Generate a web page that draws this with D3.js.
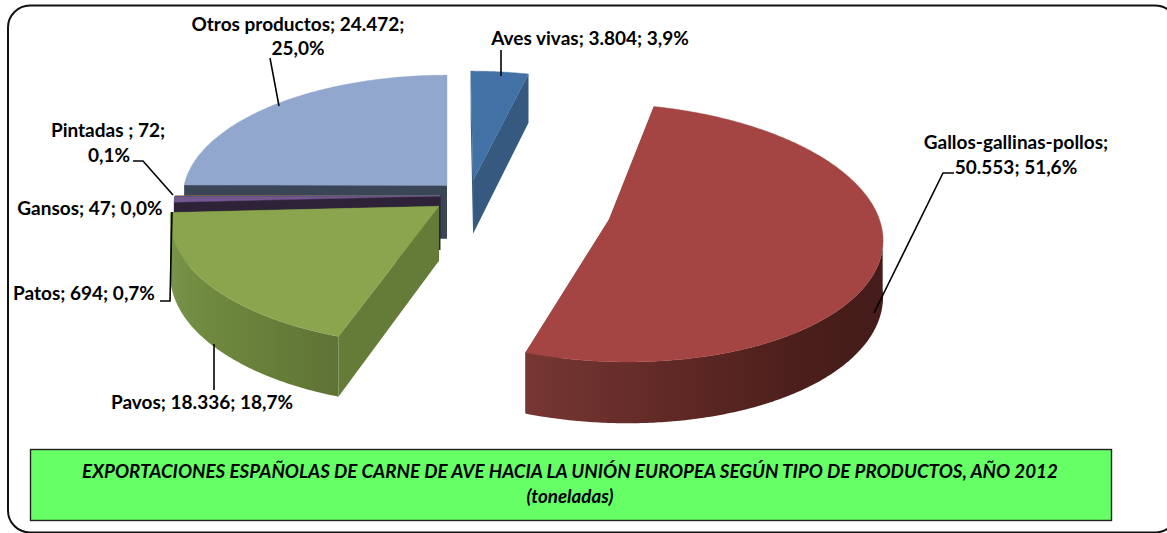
<!DOCTYPE html>
<html><head><meta charset="utf-8">
<script src="https://cdn.jsdelivr.net/npm/d3@7"></script>
<style>html,body{margin:0;padding:0;background:#fff;overflow:hidden}svg{display:block}
text{font-family:Lato,Carlito,sans-serif;font-weight:700;fill:#000}</style></head><body>
<script>
const categories = ["Aves vivas","Gallos-gallinas-pollos","Pavos","Patos","Gansos","Pintadas","Otros productos"];
const tonnes = [3804,50553,18336,694,47,72,24472];
const topColors = ["#4271a6","#a54543","#8aa54e","#72588f","#3f8fa5","#c07a3a","#92a7cd"];
const wallColors = ["#35597f","#451c19","#657b38","#2e2238","#2e2238","#2e2238","#3a4658"];
const rimShades = [null,[[200,"#773734"],[170,"#5f2825"],[140,"#4a1e1b"],[120,"#451c19"]],[[267,"#78944a"],[235,"#6f8a3f"],[200,"#5f7335"]],null,null,null,null];
const labelLines = [
  ["Aves vivas; 3.804; 3,9%"],
  ["Gallos-gallinas-pollos;","50.553; 51,6%"],
  ["Pavos; 18.336; 18,7%"],
  ["Patos; 694; 0,7%"],
  ["Gansos; 47; 0,0%"],
  ["Pintadas ; 72;","0,1%"],
  ["Otros productos; 24.472;","25,0%"]
];
const titleLines = ["EXPORTACIONES ESPAÑOLAS DE CARNE DE AVE HACIA LA UNIÓN EUROPEA SEGÚN TIPO DE PRODUCTOS, AÑO 2012","(toneladas)"];

// layout (separate from the data)
const W=1167,H=533;
const cam={cx:447,cy:195,A:123,B:265,k:0.1,D:54};
const sliceShift=[[0.0995,-0.12],[0.6,0.195],[-0.03,0.09],[-0.026,0.008],[-0.026,0.008],[-0.026,0.008],[0,-0.08]];
const drawOrder=[6,5,4,3,0,2,1];
const labelY=[45,149,409,300,215,137,31];
const lineGap=[0,25,0,0,0,25,24];
const labelLineX=[[590],[1016,1016],[202],[84],[90],[108,109],[298,298]];
const leaders=[
  [[501,50],[501,76]],
  [[954,173],[943,173],[874,313]],
  [[214,344],[214,390]],
  [[160,301],[170,301],[172,212]],
  [],
  [[133,161],[143,161],[173,195]],
  [[270,58],[279,106]]
];

const svg=d3.select("body").append("svg").attr("width",W).attr("height",H);
const defs=svg.append("defs");
const lineGen=d3.line();
const proj=(X,Z,y0=0)=>{const s=1/(1-cam.k*Z);return [cam.cx+cam.B*X*s, cam.cy+(cam.A*Z+y0)*s];};
const pie=d3.pie().sort(null).startAngle(0).endAngle(2*Math.PI)(tonnes);
const rad=d=>d*Math.PI/180;

svg.append("rect").attr("x",8).attr("y",5.5).attr("width",1169).attr("height",527).attr("rx",22).attr("ry",22)
  .attr("fill","#fff").attr("stroke","#111").attr("stroke-width",2);

function rimPoint(i,t,y0){const [ox,oz]=sliceShift[i];return proj(ox+Math.sin(t),oz-Math.cos(t),y0);}
function apex(i,y0){const [ox,oz]=sliceShift[i];return proj(ox,oz,y0);}

drawOrder.forEach(i=>{
  const a=pie[i],n=Math.max(2,Math.ceil((a.endAngle-a.startAngle)/0.01));
  const ts=d3.range(n+1).map(j=>a.startAngle+(a.endAngle-a.startAngle)*j/n);
  const g=svg.append("g").attr("class","slice");
  const wall=(t)=>lineGen([apex(i,0),rimPoint(i,t,0),rimPoint(i,t,cam.D),apex(i,cam.D)])+"Z";
  g.append("path").attr("d",wall(a.startAngle)).attr("fill",wallColors[i]);
  g.append("path").attr("d",wall(a.endAngle)).attr("fill",wallColors[i]);
  // outer rim: only the part that faces the viewer, as one shape with a horizontal gradient
  const front=ts.filter(t=>Math.cos(t)<=-cam.k);
  if(front.length>1){
    let fill=wallColors[i];
    if(rimShades[i]){
      const stops=rimShades[i].map(([deg,c])=>[rimPoint(i,rad(deg),0)[0],c]).sort((p,q)=>p[0]-q[0]);
      const x1=stops[0][0],x2=stops[stops.length-1][0];
      const grad=defs.append("linearGradient").attr("id","rim"+i).attr("gradientUnits","userSpaceOnUse")
        .attr("x1",x1).attr("x2",x2).attr("y1",0).attr("y2",0);
      stops.forEach(([x,c])=>grad.append("stop").attr("offset",(x-x1)/(x2-x1)).attr("stop-color",c));
      fill="url(#rim"+i+")";
    }
    const pts=[...front.map(t=>rimPoint(i,t,0)),...front.slice().reverse().map(t=>rimPoint(i,t,cam.D))];
    g.append("path").attr("d",lineGen(pts)+"Z").attr("fill",fill);
  }
  const top=[apex(i,0),...ts.map(t=>rimPoint(i,t,0))];
  g.append("path").attr("d",lineGen(top)+"Z").attr("fill",topColors[i]).attr("stroke",topColors[i]).attr("stroke-width",0.4);
});

leaders.forEach(p=>{ if(p.length) svg.append("path").attr("d",lineGen(p)).attr("fill","none").attr("stroke","#000").attr("stroke-width",1.6);});

categories.forEach((c,i)=>{
  labelLines[i].forEach((s,j)=>{
    svg.append("text").attr("x",labelLineX[i][j]).attr("y",labelY[i]+j*lineGap[i])
      .attr("text-anchor","middle").attr("font-size",19).text(s);
  });
});

svg.append("rect").attr("x",30.5).attr("y",449.5).attr("width",1081).attr("height",71)
  .attr("fill","#66ff66").attr("stroke","#222").attr("stroke-width",1.4);
titleLines.forEach((s,j)=>{
  svg.append("text").attr("x",570).attr("y",478+j*25).attr("text-anchor","middle")
    .attr("font-size",18.8).attr("font-style","italic").text(s);
});
</script></body></html>
